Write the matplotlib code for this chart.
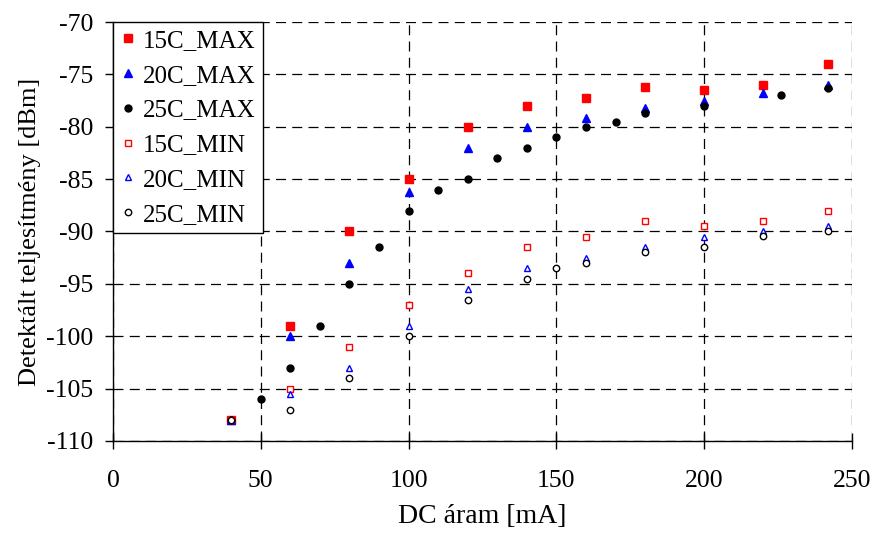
import matplotlib

matplotlib.use("Agg")
import matplotlib.pyplot as plt

plt.rcParams["font.family"] = ["Liberation Serif", "DejaVu Serif"]
plt.rcParams["axes.unicode_minus"] = False

# DC current [mA] and detected power [dBm] per series
x_15_max = [40, 60, 80, 100, 120, 140, 160, 180, 200, 220, 242]
y_15_max = [-108, -99, -90, -85, -80, -78, -77.3, -76.2, -76.5, -76, -74]

x_20_max = [40, 60, 80, 100, 120, 140, 160, 180, 200, 220, 242]
y_20_max = [-108, -100, -93, -86.2, -82, -80, -79.2, -78.2, -77.5, -76.8, -76]

x_25_max = [40, 50, 60, 70, 80, 90, 100, 110, 120, 130, 140, 150, 160, 170, 180, 200, 226, 242]
y_25_max = [-108, -106, -103, -99, -95, -91.5, -88, -86, -85, -83, -82, -81, -80,
            -79.5, -78.7, -78, -77, -76.3]

x_15_min = [40, 60, 80, 100, 120, 140, 160, 180, 200, 220, 242]
y_15_min = [-108, -105, -101, -97, -94, -91.5, -90.5, -89, -89.5, -89, -88]

x_20_min = [40, 60, 80, 100, 120, 140, 160, 180, 200, 220, 242]
y_20_min = [-108, -105.5, -103, -99, -95.5, -93.5, -92.5, -91.5, -90.5, -90, -89.5]

x_25_min = [40, 60, 80, 100, 120, 140, 150, 160, 180, 200, 220, 242]
y_25_min = [-108, -107, -104, -100, -96.5, -94.5, -93.5, -93, -92, -91.5, -90.4, -90]

x_ticks = [0, 50, 100, 150, 200, 250]
y_ticks = [-110, -105, -100, -95, -90, -85, -80, -75, -70]

fig = plt.figure(figsize=(8.73, 5.34), dpi=100)
ax = fig.add_axes([0.1294, 0.1742, 0.8466, 0.7846])

series = [
    (x_15_max, y_15_max, "15C_MAX", dict(marker="s", color="red", ms=5.3)),
    (x_20_max, y_20_max, "20C_MAX", dict(marker="^", color="blue", ms=6)),
    (x_25_max, y_25_max, "25C_MAX", dict(marker="o", color="black", ms=5)),
    (x_15_min, y_15_min, "15C_MIN", dict(marker="s", color="red", mfc="white", ms=4.8)),
    (x_20_min, y_20_min, "20C_MIN", dict(marker="^", color="blue", mfc="white", ms=5)),
    (x_25_min, y_25_min, "25C_MIN", dict(marker="o", color="black", mfc="white", ms=4.6)),
]
for xs, ys, lab, st in series:
    mfc = st.get("mfc", st["color"])
    ax.plot(xs, ys, ls="none", marker=st["marker"], ms=st["ms"], mfc=mfc,
            mec=st["color"], mew=1.0, label=lab, zorder=3)

ax.set_xlim(0, 250)
ax.set_ylim(-110, -70)
ax.set_xticks(x_ticks)
ax.set_yticks(y_ticks)
ax.grid(True, color="black", ls=(0, (8, 5)), lw=0.9)
ax.set_axisbelow(True)
for s in ("top", "right"):
    ax.spines[s].set_visible(False)
ax.spines["left"].set_linewidth(1.0)
ax.spines["bottom"].set_linewidth(1.0)
ax.tick_params(axis="x", direction="inout", length=11.5, width=1, labelsize=18.5, pad=15)
ax.tick_params(axis="y", direction="out", length=6, width=1, labelsize=18.5, pad=8)

ax.set_xlabel("DC áram [mA]", fontsize=20, labelpad=9)
ax.set_ylabel("Detektált teljesítmény [dBm]", fontsize=19, labelpad=4)

leg = ax.legend(loc="upper left", bbox_to_anchor=(0, 1), borderaxespad=0,
                fontsize=18, handlelength=0.6, handletextpad=0.3,
                labelspacing=0.49, borderpad=0.3, fancybox=False,
                framealpha=1, edgecolor="black", markerscale=1.0)
leg.get_frame().set_linewidth(1.0)

fig.savefig("out.png", dpi=100)
